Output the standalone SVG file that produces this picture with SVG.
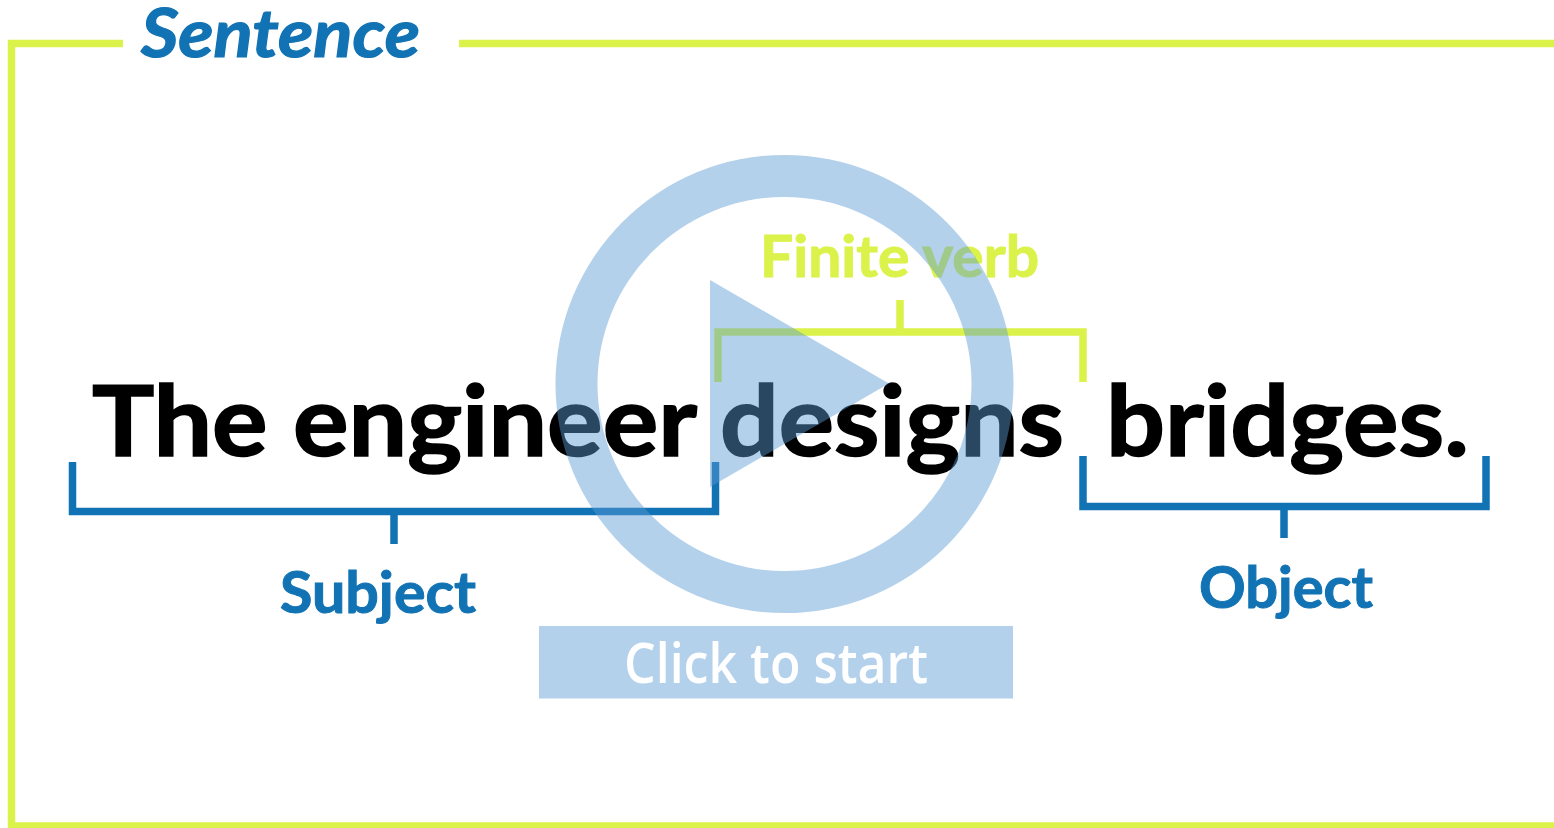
<svg xmlns="http://www.w3.org/2000/svg" width="1554" height="828" viewBox="0 0 1554 828">
<style>
.lime{stroke:#dbf24a;fill:none}
.blue{stroke:#1172b4;fill:none}
text{font-family:Lato,"Open Sans","Liberation Sans",sans-serif;font-weight:700;paint-order:stroke}
.main{font-size:98px;fill:#000;stroke:#000;stroke-width:1.600}
.lab{font-size:57px;stroke-width:1}
.lb{fill:#1172b4;stroke:#1172b4}
.ll{fill:#dbf24a;stroke:#dbf24a}
.ov{fill:#5b9bd5;fill-opacity:.46}
</style>
<rect width="1554" height="828" fill="#fff"/>
<g id="connectors">
<path class="lime" stroke-width="7.500" d="M123 43.500H11.500V826H1554M459 43.500H1554"/>
<path class="lime" stroke-width="7.500" d="M718 382V332H1083V382M900 300V332"/>
<path class="blue" stroke-width="7.500" d="M72.500 462V511.500H715.500V462M394 511V544"/>
<path class="blue" stroke-width="7.500" d="M1083 456V506.500H1486V456M1284 506V538"/>
</g>
<g id="sentence-label"><text class="lb" x="141" y="57" font-size="66" font-style="italic" stroke-width="1.200" textLength="279" lengthAdjust="spacingAndGlyphs">Sentence</text></g>
<g id="finite-verb"><text class="lab ll" x="760" y="277" textLength="279" lengthAdjust="spacingAndGlyphs">Finite verb</text></g>
<g id="subject"><text class="lab lb" x="280" y="613" textLength="196" lengthAdjust="spacingAndGlyphs">Subject</text></g>
<g id="object"><text class="lab lb" x="1199" y="608" textLength="174" lengthAdjust="spacingAndGlyphs">Object</text></g>
<g id="words">
<text class="main" x="92" y="456" textLength="605" lengthAdjust="spacingAndGlyphs">The engineer</text>
<text class="main" x="720" y="456" textLength="344" lengthAdjust="spacingAndGlyphs">designs</text>
<text class="main" x="1106" y="456" textLength="363" lengthAdjust="spacingAndGlyphs">bridges.</text>
</g>
<g id="play-button">
<path class="ov" fill-rule="evenodd" d="M555.500 384a229 229 0 1 0 458 0a229 229 0 1 0 -458 0ZM597.500 384a187 187 0 1 1 374 0a187 187 0 1 1 -374 0Z"/>
<path class="ov" d="M710 280L889 383.500L710 487Z"/>
</g>
<g id="click-to-start">
<rect class="ov" x="539" y="626" width="474" height="72.500"/>
<text x="624" y="683" font-size="56" fill="#fff" style="font-family:'Open Sans',sans-serif;font-weight:600" textLength="304" lengthAdjust="spacingAndGlyphs">Click to start</text>
</g>
</svg>
